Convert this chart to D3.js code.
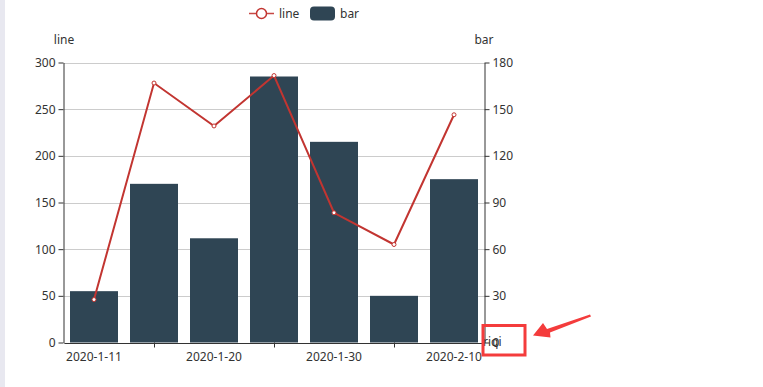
<!DOCTYPE html>
<html>
<head>
<meta charset="utf-8">
<script src="https://cdn.jsdelivr.net/npm/d3@7/dist/d3.min.js"></script>
<style>
  html, body { margin: 0; padding: 0; background: #fff; }
  svg { display: block; font-family: "Noto Sans", sans-serif; font-size: 12px; }
</style>
</head>
<body>
<svg id="chart" width="763" height="387"></svg>
<script>
(function(){

  // DATA ////////////////////////////////////////////////////////////////////

  var categories = ["2020-1-11", "2020-1-15", "2020-1-20", "2020-1-25", "2020-1-30", "2020-2-5", "2020-2-10"];
  var lineValues = [46, 278, 232, 286, 139, 105, 244];
  var barValues  = [33, 102, 67, 171, 129, 30, 105];
  var leftTicks  = [0, 50, 100, 150, 200, 250, 300];
  var rightTicks = [0, 30, 60, 90, 120, 150, 180];

  // GLOBALS /////////////////////////////////////////////////////////////////

  var left = 64, right = 484, top = 62.5, bottom = 342.5;
  var lineColor = "#c23531";
  var barColor = "#2f4554";
  var textColor = "#333";

  var svg = d3.select("svg#chart");

  // page strip on the left
  svg.append("rect").attr("x", 0).attr("y", 0).attr("width", 5).attr("height", 387).attr("fill", "#e8e8f0");

  // SCALES //////////////////////////////////////////////////////////////////

  var x = d3.scaleBand().domain(categories).range([left, right]).paddingInner(0.2).paddingOuter(0.1);
  var xStep = (right - left) / categories.length;
  var center = function(d){ return left + categories.indexOf(d) * xStep + xStep / 2; };

  var yLine = d3.scaleLinear().domain([0, 300]).range([bottom, top]);
  var yBar  = d3.scaleLinear().domain([0, 180]).range([bottom, top]);

  // grid lines
  svg.append("g").selectAll("line").data(leftTicks).enter().append("line")
    .attr("x1", left).attr("x2", right)
    .attr("y1", function(d){ return Math.round(yLine(d)) + 0.5; })
    .attr("y2", function(d){ return Math.round(yLine(d)) + 0.5; })
    .attr("stroke", "#ccc");

  // BARS ////////////////////////////////////////////////////////////////////

  svg.append("g").selectAll("rect").data(barValues).enter().append("rect")
    .attr("x", function(d, i){ return x(categories[i]); })
    .attr("width", x.bandwidth())
    .attr("y", function(d){ return yBar(d); })
    .attr("height", function(d){ return bottom - yBar(d); })
    .attr("fill", barColor);

  // AXES ////////////////////////////////////////////////////////////////////

  var leftAxis = d3.axisLeft(yLine).tickValues(leftTicks).tickSize(5).tickPadding(3).tickSizeOuter(0);
  var gl = svg.append("g").attr("transform", "translate(" + (left - 0.5) + ",0)").call(leftAxis);

  var rightAxis = d3.axisRight(yBar).tickValues(rightTicks).tickSize(5).tickPadding(3).tickSizeOuter(0);
  var gr = svg.append("g").attr("transform", "translate(" + (right + 0.5) + ",0)").call(rightAxis);

  var xAxis = d3.axisBottom(x)
    .tickValues(categories.filter(function(d, i){ return i % 2 === 0; }))
    .tickSize(0).tickPadding(9).tickSizeOuter(0);
  var gx = svg.append("g").attr("transform", "translate(0," + (bottom + 0.5) + ")").call(xAxis);

  // x ticks sit between the shown labels
  svg.append("g").selectAll("line")
    .data(categories.filter(function(d, i){ return i % 2 === 1; }))
    .enter().append("line")
    .attr("x1", function(d){ return Math.round(center(d)) + 0.5; })
    .attr("x2", function(d){ return Math.round(center(d)) + 0.5; })
    .attr("y1", bottom).attr("y2", bottom + 5)
    .attr("stroke", textColor);

  [gl, gr, gx].forEach(function(g){
    g.selectAll("path.domain").attr("stroke", textColor);
    g.selectAll(".tick line").attr("stroke", textColor);
    g.selectAll(".tick text").attr("fill", textColor).style("font-size", "12px")
      .style("font-family", "'Noto Sans', sans-serif");
  });

  // axis names (the x axis name overlaps the right "0" label, as in the original)
  svg.append("text").attr("x", left).attr("y", 44).attr("text-anchor", "middle").attr("fill", textColor).text("line");
  svg.append("text").attr("x", right).attr("y", 44).attr("text-anchor", "middle").attr("fill", textColor).text("bar");
  svg.append("text").attr("x", right - 1).attr("y", 346).attr("fill", textColor).text("riqi");

  // LINE ////////////////////////////////////////////////////////////////////

  var line = d3.line()
    .x(function(d, i){ return center(categories[i]); })
    .y(function(d){ return yLine(d); });

  svg.append("path").datum(lineValues)
    .attr("d", line)
    .attr("fill", "none")
    .attr("stroke", lineColor)
    .attr("stroke-width", 2);

  svg.append("g").selectAll("circle").data(lineValues).enter().append("circle")
    .attr("cx", function(d, i){ return center(categories[i]); })
    .attr("cy", function(d){ return yLine(d); })
    .attr("r", 2)
    .attr("fill", "#fff")
    .attr("stroke", lineColor)
    .attr("stroke-width", 1);

  // LEGEND //////////////////////////////////////////////////////////////////

  var legend = svg.append("g");
  legend.append("line").attr("x1", 249).attr("x2", 274).attr("y1", 13.5).attr("y2", 13.5)
    .attr("stroke", lineColor).attr("stroke-width", 1.5).attr("opacity", 0.9);
  legend.append("circle").attr("cx", 261.5).attr("cy", 13.5).attr("r", 5)
    .attr("fill", "#fff").attr("stroke", lineColor).attr("stroke-width", 1.5);
  legend.append("text").attr("x", 279).attr("y", 18).attr("fill", textColor).text("line");
  legend.append("rect").attr("x", 310).attr("y", 6.5).attr("width", 25).attr("height", 14)
    .attr("rx", 4).attr("fill", barColor);
  legend.append("text").attr("x", 340).attr("y", 18).attr("fill", textColor).text("bar");

  // ANNOTATION //////////////////////////////////////////////////////////////

  var annotColor = "#f43c3c";
  svg.append("rect").attr("x", 483).attr("y", 325.5).attr("width", 42).attr("height", 29.5)
    .attr("fill", "none").attr("stroke", annotColor).attr("stroke-width", 3);

  var arrow = [[533, 335.5], [543, 323], [547, 329], [590, 314.5], [591, 316.5], [550, 332.5], [550.5, 337.5]];
  svg.append("path").attr("d", d3.line()(arrow) + "Z").attr("fill", annotColor);

})();
</script>
</body>
</html>
